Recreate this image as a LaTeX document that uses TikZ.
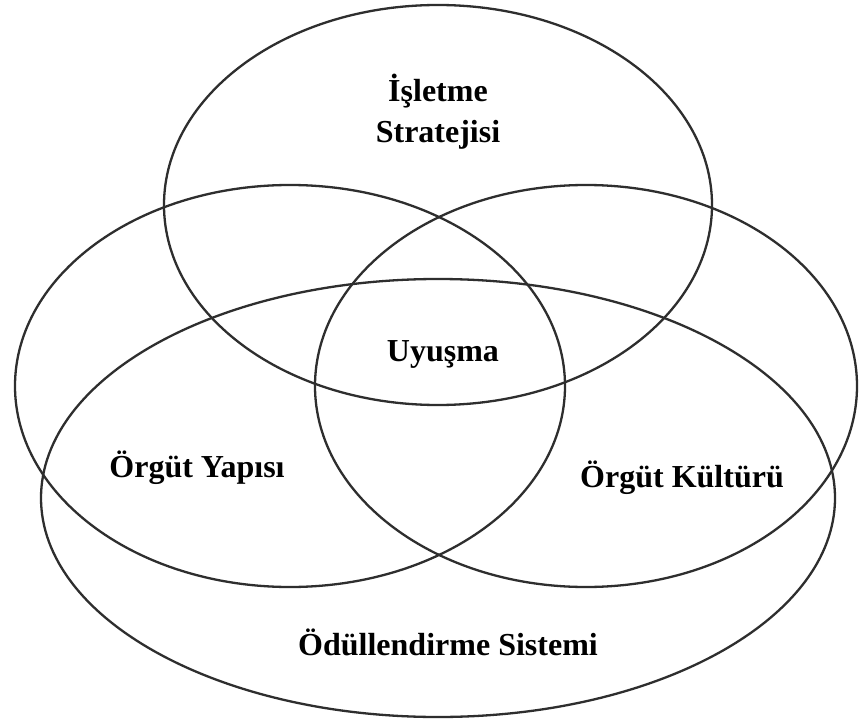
\documentclass[tikz,border=0pt]{standalone}
\usepackage{fontspec}
\setmainfont{Liberation Serif}
\begin{document}
\begin{tikzpicture}[x=1pt,y=-1pt,
  ring/.style={draw=black!82,line width=2.3pt},
  label/.style={font=\fontsize{32}{41}\selectfont\bfseries,anchor=base,inner sep=0pt,align=center}]
\useasboundingbox[fill=white] (0,0) rectangle (859,722);
% the four overlapping fields
\draw[ring] (438,205) ellipse [x radius=274pt, y radius=200pt];
\draw[ring] (290,386) ellipse [x radius=275pt, y radius=201pt];
\draw[ring] (586,386) ellipse [x radius=271pt, y radius=201pt];
\draw[ring] (438,498) ellipse [x radius=397pt, y radius=219pt];
% field names
\node[label] (strat1) at (438,102) {İşletme};
\node[label] (strat2) at (438,143) {Stratejisi};
\node[label] (fit) at (443,361) {Uyuşma};
\node[label] (struct) at (197,477) {Örgüt Yapısı};
\node[label] (culture) at (682,487) {Örgüt Kültürü};
\node[label] (reward) at (448,655) {Ödüllendirme Sistemi};
\end{tikzpicture}
\end{document}
